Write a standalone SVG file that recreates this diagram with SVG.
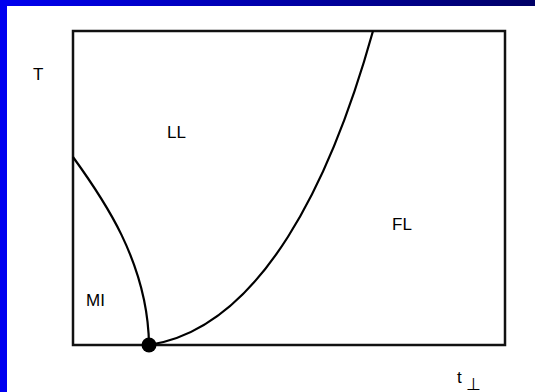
<svg xmlns="http://www.w3.org/2000/svg" width="535" height="392" viewBox="0 0 535 392">
<defs>
<linearGradient id="topbar" x1="0" y1="0" x2="1" y2="0">
<stop offset="0" stop-color="#0000f0"/>
<stop offset="1" stop-color="#000066"/>
</linearGradient>
<style>
.lbl{font-family:"Liberation Sans",Arial,sans-serif;font-size:17px;fill:#000}
.curve{fill:none;stroke:#000;stroke-width:2.2}
</style>
</defs>
<rect width="535" height="392" fill="#fff"/>
<rect x="0" y="0" width="535" height="6" fill="url(#topbar)"/>
<rect x="0" y="0" width="7" height="392" fill="#0000f0"/>
<g id="frame">
<rect x="73" y="31" width="432" height="314" fill="none" stroke="#111" stroke-width="2.5"/>
</g>
<g id="connectors">
<path class="curve" d="M73,157 C102,197 148,262 149,345"/>
<path class="curve" d="M149,345 C262,328 332,178 373,31"/>
</g>
<g id="critical-point"><circle cx="149" cy="345" r="7.5" fill="#000"/></g>
<g id="axis-T"><text class="lbl" x="33" y="80">T</text></g>
<g id="region-LL"><text class="lbl" x="167" y="138">LL</text></g>
<g id="region-FL"><text class="lbl" x="392" y="230">FL</text></g>
<g id="region-MI"><text class="lbl" x="86" y="306">MI</text></g>
<g id="axis-t"><text class="lbl" x="457" y="383">t</text><text class="lbl" x="466" y="390" font-size="12">⊥</text></g>
</svg>
